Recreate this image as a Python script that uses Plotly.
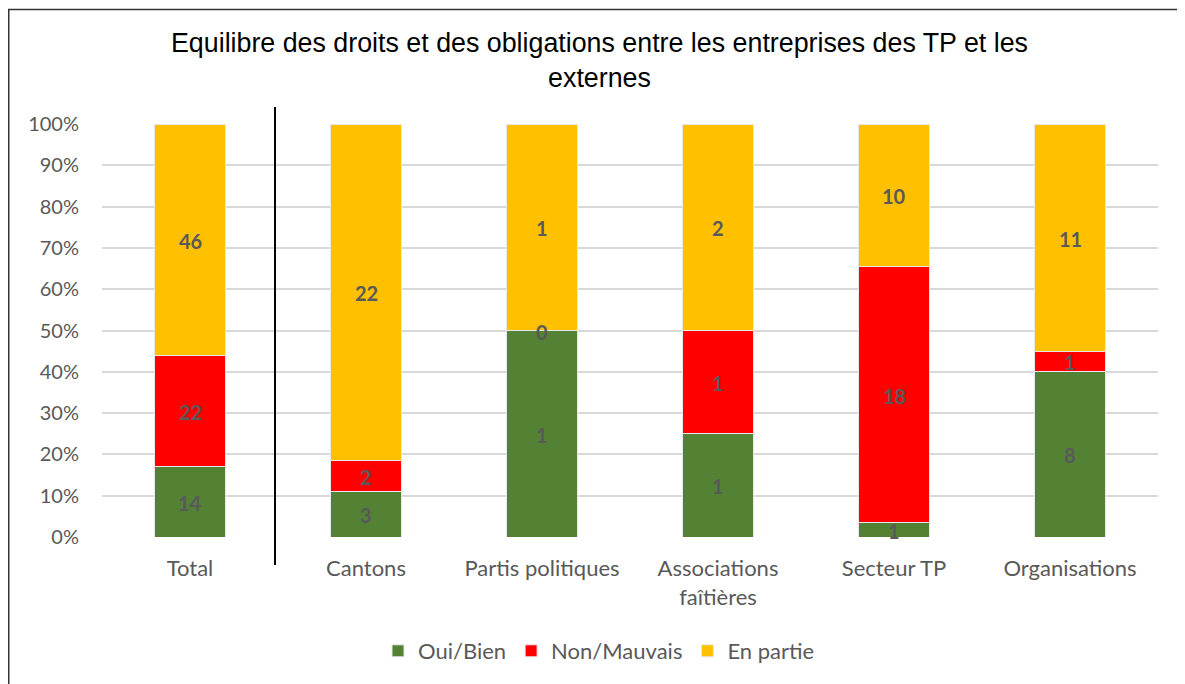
import plotly.graph_objects as go

categories = ["Total", "Cantons", "Partis politiques", "Associations<br>faîtières", "Secteur TP", "Organisations"]
oui = [14, 3, 1, 1, 1, 8]
non = [22, 2, 0, 1, 18, 1]
partie = [46, 22, 1, 2, 10, 11]
series_names = ["Oui/Bien", "Non/Mauvais", "En partie"]
colors = ["#548235", "#FF0000", "#FFC000"]
yticks = [i / 10 for i in range(11)]

# page body has an 8px margin, so figure coords = screen coords - 8
W, H = 1185, 684
L, T = 94, 116
PW, PH = 1056, 413
R = W - L - PW
B = H - T - PH

def px_x(px):
    return (px - 8 - L) / PW

def px_y(py):
    return 1 - (py - 8 - T) / PH

totals = [a + b + c for a, b, c in zip(oui, non, partie)]
series = [oui, non, partie]

fig = go.Figure()
for name, vals, col in zip(series_names, series, colors):
    fig.add_trace(go.Bar(
        x=categories, y=[v / t for v, t in zip(vals, totals)], name=name,
        marker=dict(color=col, line=dict(color="#E8E8E8", width=1)),
        width=0.4, hoverinfo="skip",
    ))

annotations = []
for i, cat in enumerate(categories):
    base = 0
    for vals in series:
        frac = vals[i] / totals[i]
        annotations.append(dict(
            x=cat, y=base + frac / 2, xref="x", yref="y", text="<b>%d</b>" % vals[i],
            showarrow=False, yshift=-1, xanchor="center", yanchor="middle",
            font=dict(family="Lato", size=20, color="#595959"),
        ))
        base += frac

annotations.append(dict(
    text="Equilibre des droits et des obligations entre les entreprises des TP et les<br>externes",
    x=px_x(599.5), xref="paper", y=px_y(61), yref="paper",
    xanchor="center", yanchor="middle", showarrow=False,
    font=dict(family="Liberation Sans", size=26.8, color="#000000"),
))

fig.update_layout(
    barmode="stack",
    width=W, height=H,
    margin=dict(l=L, r=R, t=T, b=B),
    paper_bgcolor="white", plot_bgcolor="white",
    font=dict(family="Lato", size=20, color="#595959"),
    showlegend=True,
    legend=dict(orientation="h", x=px_x(599), xanchor="center", y=px_y(651), yanchor="middle",
                font=dict(size=22, color="#595959"), traceorder="normal"),
    annotations=annotations,
    shapes=[
        dict(type="line", xref="x", yref="paper", x0=0.483, x1=0.483,
             y0=px_y(565), y1=px_y(107),
             line=dict(color="black", width=2)),
        dict(type="rect", xref="paper", yref="paper",
             x0=px_x(8.75), x1=px_x(1210),
             y0=px_y(710), y1=px_y(9.5),
             line=dict(color="#333333", width=1.5)),
    ],
)
fig.update_yaxes(range=[0, 1], tickvals=yticks, tickformat=".0%", showgrid=True,
                 gridcolor="#D9D9D9", gridwidth=1.5, zeroline=False, showline=False,
                 ticks="", ticklabelstandoff=22, tickfont=dict(size=20, color="#595959"))
fig.update_xaxes(showgrid=False, showline=False, ticks="", tickfont=dict(size=22, color="#595959"),
                 ticklabelstandoff=16)

fig.write_html("out.html")
